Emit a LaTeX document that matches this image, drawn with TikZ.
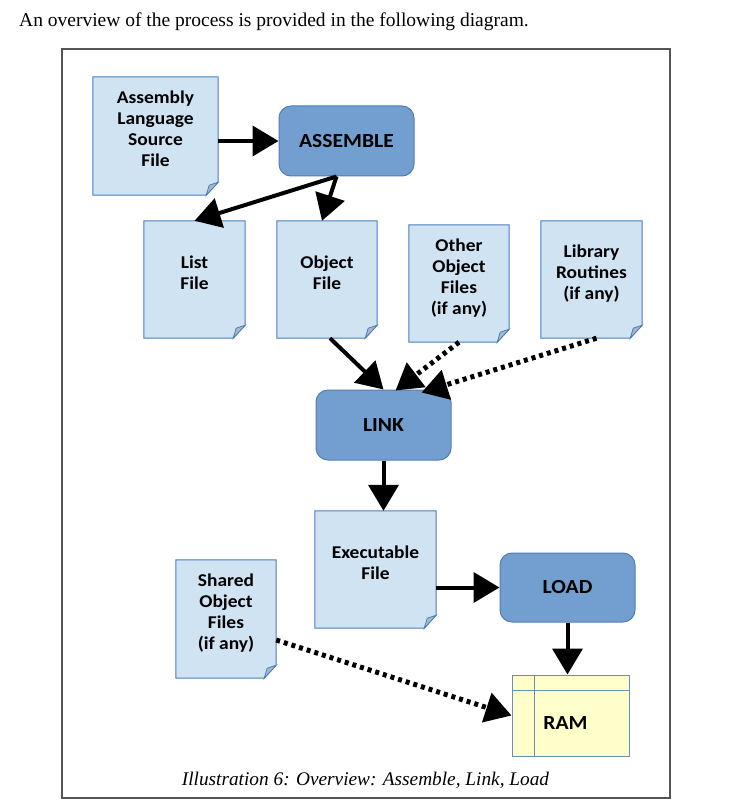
\documentclass[tikz,border=0pt]{standalone}
\usepackage{fontspec}
\setmainfont{Liberation Serif}
\newfontfamily\boxfont[FakeStretch=1.08]{Carlito}
\usetikzlibrary{arrows.meta,backgrounds}

\definecolor{docfill}{HTML}{CFE3F3}
\definecolor{docline}{HTML}{4A7EBB}
\definecolor{foldfill}{HTML}{A8B8CA}
\definecolor{procfill}{HTML}{729FCF}
\definecolor{procline}{HTML}{4F7DB5}
\definecolor{ramfill}{HTML}{FFFFCC}
\definecolor{ramline}{HTML}{6A8DB5}
\definecolor{framecol}{HTML}{555555}

% multi-line label, lifted a little above the centre of its sheet
\newcommand{\sheettext}[1]{\raisebox{5pt}[\height][\depth]{\begin{tabular}{@{}c@{}}#1\end{tabular}}}

\tikzset{
  sheet/.style={draw=none, inner sep=0pt, align=center,
    font=\boxfont\bfseries\fontsize{18}{21}\selectfont},
  procbox/.style={draw=procline, fill=procfill, line width=1pt,
    rounded corners=12pt, inner sep=0pt,
    font=\boxfont\bfseries\fontsize{20}{22}\selectfont},
  flow/.style={line width=4pt, -{Triangle[length=26pt,width=30pt]}},
  dotflow/.style={line width=5pt, dash pattern=on 4pt off 4pt,
    -{Triangle[length=26pt,width=30pt]}},
}

% page-style sheet with a turned-down lower right corner
\newcommand{\drawsheet}[1]{%
  \filldraw[fill=docfill, draw=docline, line width=1pt]
    (#1.north west) -- (#1.north east) -- ([yshift=13pt]#1.south east)
    -- ([xshift=-12pt]#1.south east) -- (#1.south west) -- cycle;
  \filldraw[fill=foldfill, draw=docline, line width=0.8pt]
    ([xshift=-12pt]#1.south east) -- ([yshift=13pt]#1.south east)
    -- ([xshift=-9pt,yshift=10pt]#1.south east) -- cycle;}

\begin{document}
\begin{tikzpicture}[x=1pt,y=-1pt]
  \useasboundingbox (0,0) rectangle (731,805);

  % introductory sentence and frame
  \node[anchor=base west, inner sep=0pt, font=\fontsize{19.5}{22}\selectfont]
    (intro) at (19,27) {An overview of the process is provided in the following diagram.};
  \draw[framecol, line width=1.2pt] (62,49) rectangle (670,798);
  \node[anchor=base, inner sep=0pt, font=\itshape\fontsize{19.3}{21}\selectfont]
    (caption) at (365.5,785) {Illustration 6: Overview: Assemble, Link, Load};

  % sheets
  \node[sheet, minimum width=125pt, minimum height=118pt] (src) at (155.5,136)
    {\sheettext{Assembly\\Language\\Source\\File}};
  \node[sheet, minimum width=101pt, minimum height=117pt] (list) at (194.5,279.5)
    {\sheettext{List\\File}};
  \node[sheet, minimum width=100pt, minimum height=117pt] (obj) at (327,279.5)
    {\sheettext{Object\\File}};
  \node[sheet, minimum width=100pt, minimum height=117pt] (other) at (459,283.5)
    {\sheettext{Other\\Object\\Files\\(if any)}};
  \node[sheet, minimum width=101pt, minimum height=117pt] (lib) at (591.5,279.5)
    {\sheettext{Library\\Routines\\(if any)}};
  \node[sheet, minimum width=121pt, minimum height=117pt] (exe) at (375.5,569.5)
    {\sheettext{Executable\\File}};
  \node[sheet, minimum width=100pt, minimum height=118pt] (shared) at (226,619)
    {\sheettext{Shared\\Object\\Files\\(if any)}};

  \begin{scope}[on background layer]
    \drawsheet{src}\drawsheet{list}\drawsheet{obj}\drawsheet{other}
    \drawsheet{lib}\drawsheet{exe}\drawsheet{shared}
  \end{scope}

  % processing steps
  \node[procbox, minimum width=135pt, minimum height=70pt] (assemble) at (346.5,141) {ASSEMBLE};
  \node[procbox, minimum width=135pt, minimum height=70pt] (link) at (383.5,425) {LINK};
  \node[procbox, minimum width=135pt, minimum height=69pt] (load) at (567.5,587.5) {LOAD};

  % memory block
  \node[draw=ramline, fill=ramfill, line width=1pt, inner sep=0pt,
    minimum width=117pt, minimum height=81pt,
    font=\boxfont\bfseries\fontsize{20}{22}\selectfont,
    text depth=0pt] (ram) at (570.5,715.5) {\hspace{-10pt}\raisebox{-14pt}{RAM}};
  \draw[ramline, line width=1pt] ([xshift=23pt]ram.north west) -- ([xshift=23pt]ram.south west);
  \draw[ramline, line width=1pt] ([yshift=-16pt]ram.north west) -- ([yshift=-16pt]ram.north east);

  % connectors
  \draw[flow] (src.east |- assemble.west) -- (assemble.west);
  \draw[flow] ([xshift=-10pt]assemble.south) -- (list.north);
  \draw[flow] ([xshift=-10pt]assemble.south) -- ([xshift=-5pt]obj.north);
  \draw[flow] ([xshift=3pt]obj.south) -- (link.north);
  \draw[dotflow] (other.south) -- ([xshift=12pt,yshift=-1pt]link.north);
  \draw[dotflow] ([xshift=5pt]lib.south) -- ([xshift=-30pt,yshift=-3pt]link.north east);
  \draw[flow] (link.south) -- (link.south |- exe.north);
  \draw[flow] (exe.east |- load.west) -- (load.west);
  \draw[flow] (load.south) -- (load.south |- ram.north);
  \draw[dotflow] ([yshift=-21pt]shared.east) -- (ram.west);
\end{tikzpicture}
\end{document}
